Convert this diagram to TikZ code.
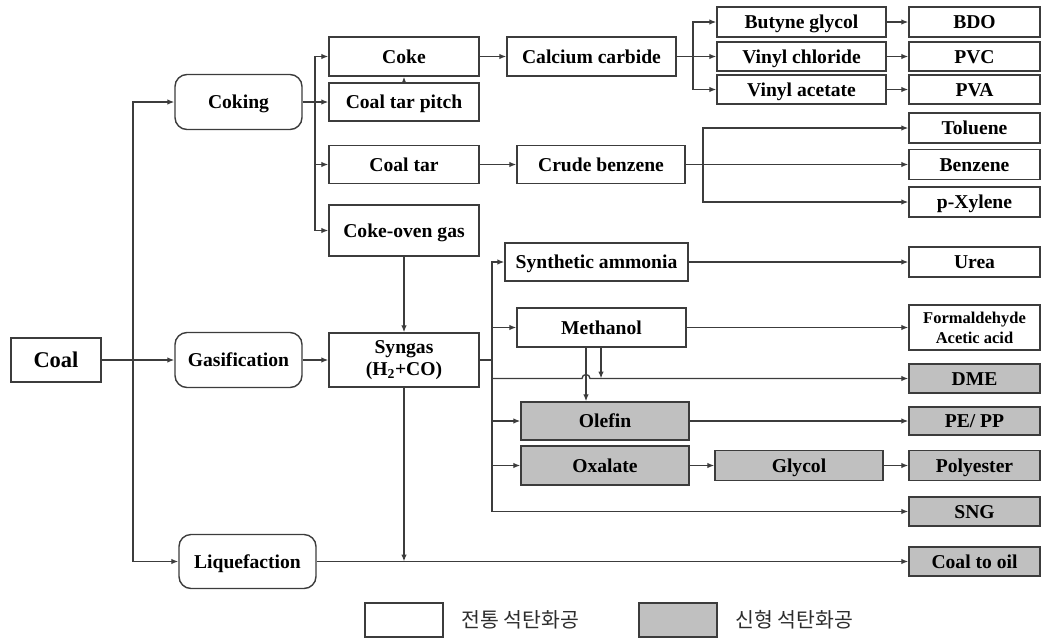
\documentclass[tikz,border=0pt]{standalone}
\usepackage{fontspec}
\setmainfont{Liberation Serif}
\newfontfamily\kofont{Noto Sans CJK KR}
\usetikzlibrary{arrows.meta}
\definecolor{linegray}{RGB}{60,60,60}
\definecolor{newgray}{RGB}{192,192,192}
\definecolor{legtext}{RGB}{45,45,45}

\begin{document}
\begin{tikzpicture}[x=1pt,y=-1pt,
  cell/.style={rectangle, draw=linegray, line width=1.4pt, fill=white, inner sep=0pt,
               align=center, font=\bfseries\fontsize{19.6}{22}\selectfont},
  box/.style={cell, text height=13pt, text depth=0pt},
  newbox/.style={box, fill=newgray},
  route/.style={box, rounded corners=12pt},
  arr/.style={-{Latex[length=7pt,width=5.5pt]}, line width=1.3pt, linegray},
  ln/.style={line width=1.3pt, linegray},
  legend/.style={anchor=west, text=legtext, font=\kofont\fontsize{20.5}{22}\selectfont}
]
\useasboundingbox (0,0) rectangle (1044,638);

% feedstock and routes
\node[box, line width=2.2pt, minimum width=90, minimum height=44, text height=15pt,
      font=\bfseries\fontsize{22.5}{24}\selectfont](coal) at (56,360){Coal};
\node[route, minimum width=127, minimum height=55](coking) at (238.5,102){Coking};
\node[route, minimum width=127, minimum height=55](gasif) at (238.5,360){Gasification};
\node[route, minimum width=137, minimum height=54](liquef) at (247.5,561.5){Liquefaction};

% coking products
\node[box, minimum width=150, minimum height=39](coke) at (404,56.5){Coke};
\node[box, minimum width=150, minimum height=38](pitch) at (404,102){Coal tar pitch};
\node[box, minimum width=150, minimum height=38](coaltar) at (404,164.5){Coal tar};
\node[box, minimum width=150, minimum height=51](cog) at (404,230.5){Coke-oven gas};
\node[cell, minimum width=150, minimum height=54](syngas) at (404,360){Syngas\\(H\textsubscript{2}+CO)};

\node[box, minimum width=169, minimum height=39](carbide) at (591.5,56.5){Calcium carbide};
\node[box, minimum width=168, minimum height=38](crudeb) at (601,164.5){Crude benzene};
\node[box, minimum width=169, minimum height=30](butyne) at (801.5,22){Butyne glycol};
\node[box, minimum width=169, minimum height=29](vinylc) at (801.5,56.5){Vinyl chloride};
\node[box, minimum width=169, minimum height=29](vinyla) at (801.5,89.5){Vinyl acetate};

% syngas chemicals
\node[box, minimum width=183, minimum height=38](ammonia) at (596.5,262){Synthetic ammonia};
\node[box, minimum width=169, minimum height=39](methanol) at (601.5,327.5){Methanol};
\node[newbox, minimum width=168, minimum height=38](olefin) at (605,421){Olefin};
\node[newbox, minimum width=168, minimum height=39](oxalate) at (605,465.5){Oxalate};
\node[newbox, minimum width=168, minimum height=30](glycol) at (799,465.5){Glycol};

% end products
\node[box, minimum width=131, minimum height=30](bdo) at (974.5,22){BDO};
\node[box, minimum width=131, minimum height=29](pvc) at (974.5,56.5){PVC};
\node[box, minimum width=131, minimum height=29](pva) at (974.5,89.5){PVA};
\node[box, minimum width=131, minimum height=30](toluene) at (974.5,128){Toluene};
\node[box, minimum width=131, minimum height=30](benzene) at (974.5,164.5){Benzene};
\node[box, minimum width=131, minimum height=30](pxylene) at (974.5,202){p-Xylene};
\node[box, minimum width=131, minimum height=30](urea) at (974.5,262){Urea};
\node[cell, minimum width=131, minimum height=45,
      font=\bfseries\fontsize{16.5}{20}\selectfont](formal) at (974.5,327.5){Formaldehyde\\Acetic acid};
\node[newbox, minimum width=131, minimum height=29](dme) at (974.5,378.5){DME};
\node[newbox, minimum width=131, minimum height=28](pepp) at (974.5,421){PE/ PP};
\node[newbox, minimum width=131, minimum height=30](polyester) at (974.5,465.5){Polyester};
\node[newbox, minimum width=131, minimum height=29](sng) at (974.5,511.5){SNG};
\node[newbox, minimum width=131, minimum height=29](c2oil) at (974.5,561.5){Coal to oil};

% junctions
\coordinate (trunk) at (133,360);
\coordinate (kbus) at (315,102);
\coordinate (cbus) at (693,56.5);
\coordinate (bbus) at (703,164.5);
\coordinate (sbus) at (492,360);
\coordinate (hop) at (586,378.5);
\coordinate (mdrop) at (601,378.5);
\coordinate (ljoin) at (404,561.5);

% coal to routes
\draw[arr](coal)--(gasif);
\draw[arr](trunk)|-(coking);
\draw[arr](trunk)|-(liquef);

% coking
\draw[arr](coking)--(pitch);
\draw[arr](kbus)|-(coke);
\draw[arr](kbus)|-(coaltar);
\draw[arr](kbus)|-(cog);
\draw[arr](pitch)--(coke);
\draw[arr](coke)--(carbide);
\draw[arr](carbide)--(vinylc);
\draw[arr](cbus)|-(butyne);
\draw[arr](cbus)|-(vinyla);
\draw[arr](butyne)--(bdo);
\draw[arr](vinylc)--(pvc);
\draw[arr](vinyla)--(pva);
\draw[arr](coaltar)--(crudeb);
\draw[arr](crudeb)--(benzene);
\draw[arr](bbus)|-(toluene);
\draw[arr](bbus)|-(pxylene);

% gasification
\draw[arr](cog)--(syngas);
\draw[arr](gasif)--(syngas);
\draw[ln](syngas)--(sbus);
\draw[arr](sbus)|-(ammonia);
\draw[arr](sbus)|-(methanol);
\draw[arr](sbus)|-([xshift=-4pt]hop) arc[start angle=180,end angle=0,radius=4pt]--(dme);
\draw[arr](sbus)|-(olefin);
\draw[arr](sbus)|-(oxalate);
\draw[arr](sbus)|-(sng);
\draw[arr](methanol.south -| hop)--(olefin.north -| hop);
\draw[arr](methanol.south -| mdrop)--(mdrop);
\draw[arr](ammonia)--(urea);
\draw[arr](methanol)--(formal);
\draw[arr](olefin)--(pepp);
\draw[arr](oxalate)--(glycol);
\draw[arr](glycol)--(polyester);

% liquefaction
\draw[arr](syngas)--(ljoin);
\draw[arr](liquef)--(c2oil);

% legend
\node[box, line width=1.2pt, minimum width=78, minimum height=34](lold) at (404,620){};
\node[legend](loldtext) at (458,620){전통 석탄화공};
\node[newbox, line width=1.2pt, minimum width=78, minimum height=34](lnew) at (678,620){};
\node[legend](lnewtext) at (732,620){신형 석탄화공};
\end{tikzpicture}
\end{document}
